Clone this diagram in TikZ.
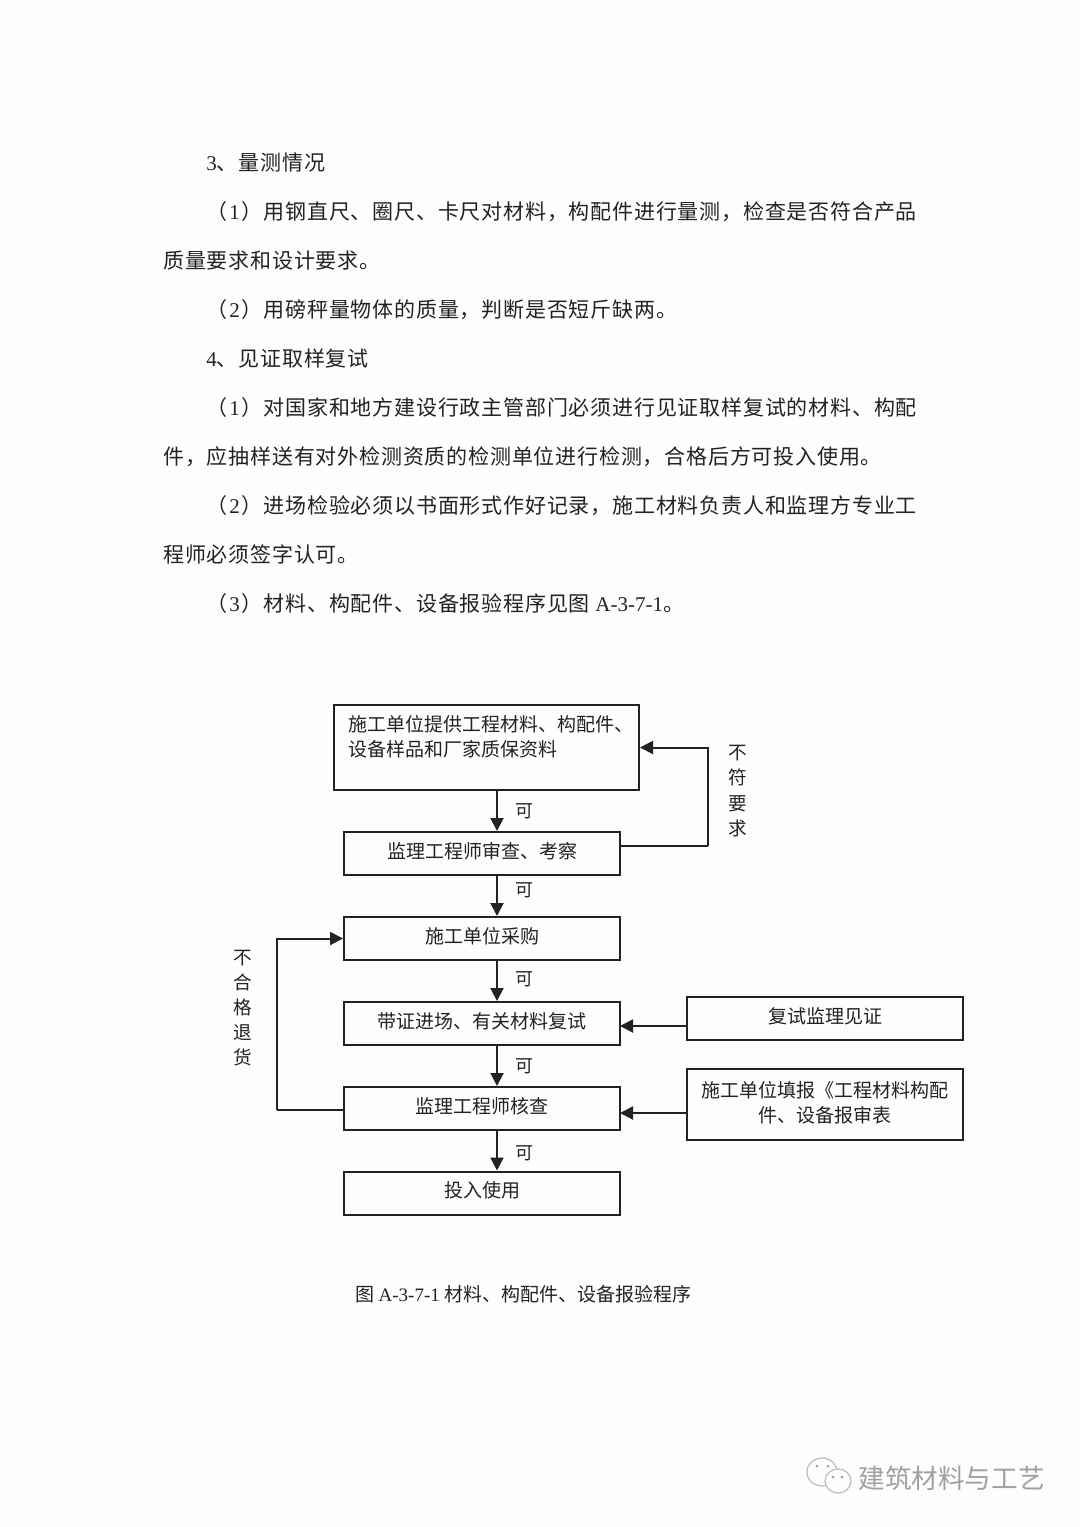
\documentclass[tikz,border=0pt]{standalone}
\usepackage{fontspec}
\usepackage{xcolor}
\usepackage{tikz}
\usetikzlibrary{arrows.meta, positioning, calc}
\setmainfont{Noto Sans CJK SC}
\newfontfamily\latfont{Liberation Serif}
\newfontfamily\bodyfont[LetterSpace=3.8]{Noto Sans CJK SC}
\definecolor{pagebg}{HTML}{FDFDFD}
\definecolor{inkdark}{HTML}{222222}
\definecolor{markgray}{HTML}{A0A0A0}
\newcommand{\lat}[1]{{\latfont #1}}
\newcommand{\parnum}[1]{（\hspace{1pt}\lat{#1}\hspace{1pt}）}

\begin{document}
\begin{tikzpicture}[
    x=0.5pt, y=-0.5pt,
    >={Triangle[length=6.5pt, width=6.5pt]},
    flowbox/.style={draw=inkdark, line width=1pt, minimum width=138pt, minimum height=21.5pt, inner sep=0pt, align=center, font=\fontsize{9.5}{12.5}\selectfont, text=inkdark},
    onebox/.style={flowbox, text height=7.7pt, text depth=3pt},
    arrow/.style={->, line width=1pt, inkdark},
    backline/.style={line width=0.7pt, inkdark},
    bodyline/.style={anchor=west, inner sep=0pt, font=\bodyfont\fontsize{10.5}{12}\selectfont, text=inkdark},
    tagtext/.style={inner sep=0pt, font=\fontsize{9}{12}\selectfont, text=inkdark},
]
    \useasboundingbox[fill=pagebg] (0,0) rectangle (1080,1527);

    % page text
    \node[bodyline] (head3) at (206,163) {\lat{3}、量测情况};
    \node[bodyline] (line1) at (206,212) {\parnum{1}用钢直尺、圈尺、卡尺对材料，构配件进行量测，检查是否符合产品};
    \node[bodyline] (line2) at (163,261) {质量要求和设计要求。};
    \node[bodyline] (line3) at (206,310) {\parnum{2}用磅秤量物体的质量，判断是否短斤缺两。};
    \node[bodyline] (head4) at (206,358) {\lat{4}、见证取样复试};
    \node[bodyline] (line4) at (206,408) {\parnum{1}对国家和地方建设行政主管部门必须进行见证取样复试的材料、构配};
    \node[bodyline] (line5) at (163,457) {件，应抽样送有对外检测资质的检测单位进行检测，合格后方可投入使用。};
    \node[bodyline] (line6) at (206,506) {\parnum{2}进场检验必须以书面形式作好记录，施工材料负责人和监理方专业工};
    \node[bodyline] (line7) at (163,554) {程师必须签字认可。};
    \node[bodyline] (line8) at (206,604) {\parnum{3}材料、构配件、设备报验程序见图 \lat{A-3-7-1}。};

    % main column
    \node[flowbox, minimum width=152.5pt, minimum height=42.5pt, text width=138pt, align=left] (supply) at (486.5,747.5) {施工单位提供工程材料、构配件、\\设备样品和厂家质保资料\\[-5pt] \strut};
    \node[onebox] (review) at (482,853.5) {监理工程师审查、考察};
    \node[onebox] (purchase) at (482,938.5) {施工单位采购};
    \node[onebox] (retest) at (482,1023.5) {带证进场、有关材料复试};
    \node[onebox] (check) at (482,1108.5) {监理工程师核查};
    \node[onebox] (use) at (482,1193) {投入使用};

    % side boxes
    \node[onebox] (witness) at (825,1018.5) {复试监理见证};
    \node[flowbox, minimum height=35.5pt] (report) at (825,1104.5) {施工单位填报《工程材料构配\\件、设备报审表\\[-13.5pt] \strut};

    \coordinate (outA) at (620,846);
    \coordinate (turnA) at (708,846);
    \coordinate (turnB) at (277,1110);
    \coordinate (inA) at (620,1026);
    \coordinate (inB) at (620,1113);
    \coordinate (colA) at (497,790);

    \draw[arrow] (colA) -- (colA |- review.north);
    \draw[arrow] (colA |- review.south) -- (colA |- purchase.north);
    \draw[arrow] (colA |- purchase.south) -- (colA |- retest.north);
    \draw[arrow] (colA |- retest.south) -- (colA |- check.north);
    \draw[arrow] (colA |- check.south) -- (colA |- use.north);

    \draw[backline] (outA) -- (turnA);
    \draw[arrow] (turnA) |- (supply.east);
    \draw[backline] (check.west |- turnB) -- (turnB);
    \draw[arrow] (turnB) |- (purchase.west);
    \draw[arrow] (witness.west |- inA) -- (inA);
    \draw[arrow] (report.west |- inB) -- (inB);

    % labels
    \node[tagtext] (okA) at (524,811) {可};
    \node[tagtext] (okB) at (524,890) {可};
    \node[tagtext] (okC) at (524,979) {可};
    \node[tagtext] (okD) at (524,1066) {可};
    \node[tagtext] (okE) at (524,1153) {可};
    \node[tagtext, align=center, font=\fontsize{9.3}{12.6}\selectfont] (refuse) at (738,791) {不\\符\\要\\求};
    \node[tagtext, align=center, font=\fontsize{9.3}{12.5}\selectfont] (returned) at (243,1008) {不\\合\\格\\退\\货};

    \node[bodyline, font=\fontsize{9.5}{12}\selectfont] (caption) at (355,1294) {图 \lat{A-3-7-1} 材料、构配件、设备报验程序};

    % watermark
    \node[bodyline, font=\fontsize{13.3}{15}\selectfont, text=markgray] (mark) at (858,1478) {建筑材料与工艺};
    \draw[markgray!70, line width=0.6pt, fill=pagebg] (822,1472) ellipse (15 and 14);
    \draw[markgray!70, line width=0.6pt, fill=pagebg] (838,1481) ellipse (13 and 12);
    \fill[markgray] (817,1466) circle (1.5) (828,1466) circle (1.5) (833,1477) circle (1.5) (842,1477) circle (1.5);
\end{tikzpicture}
\end{document}
